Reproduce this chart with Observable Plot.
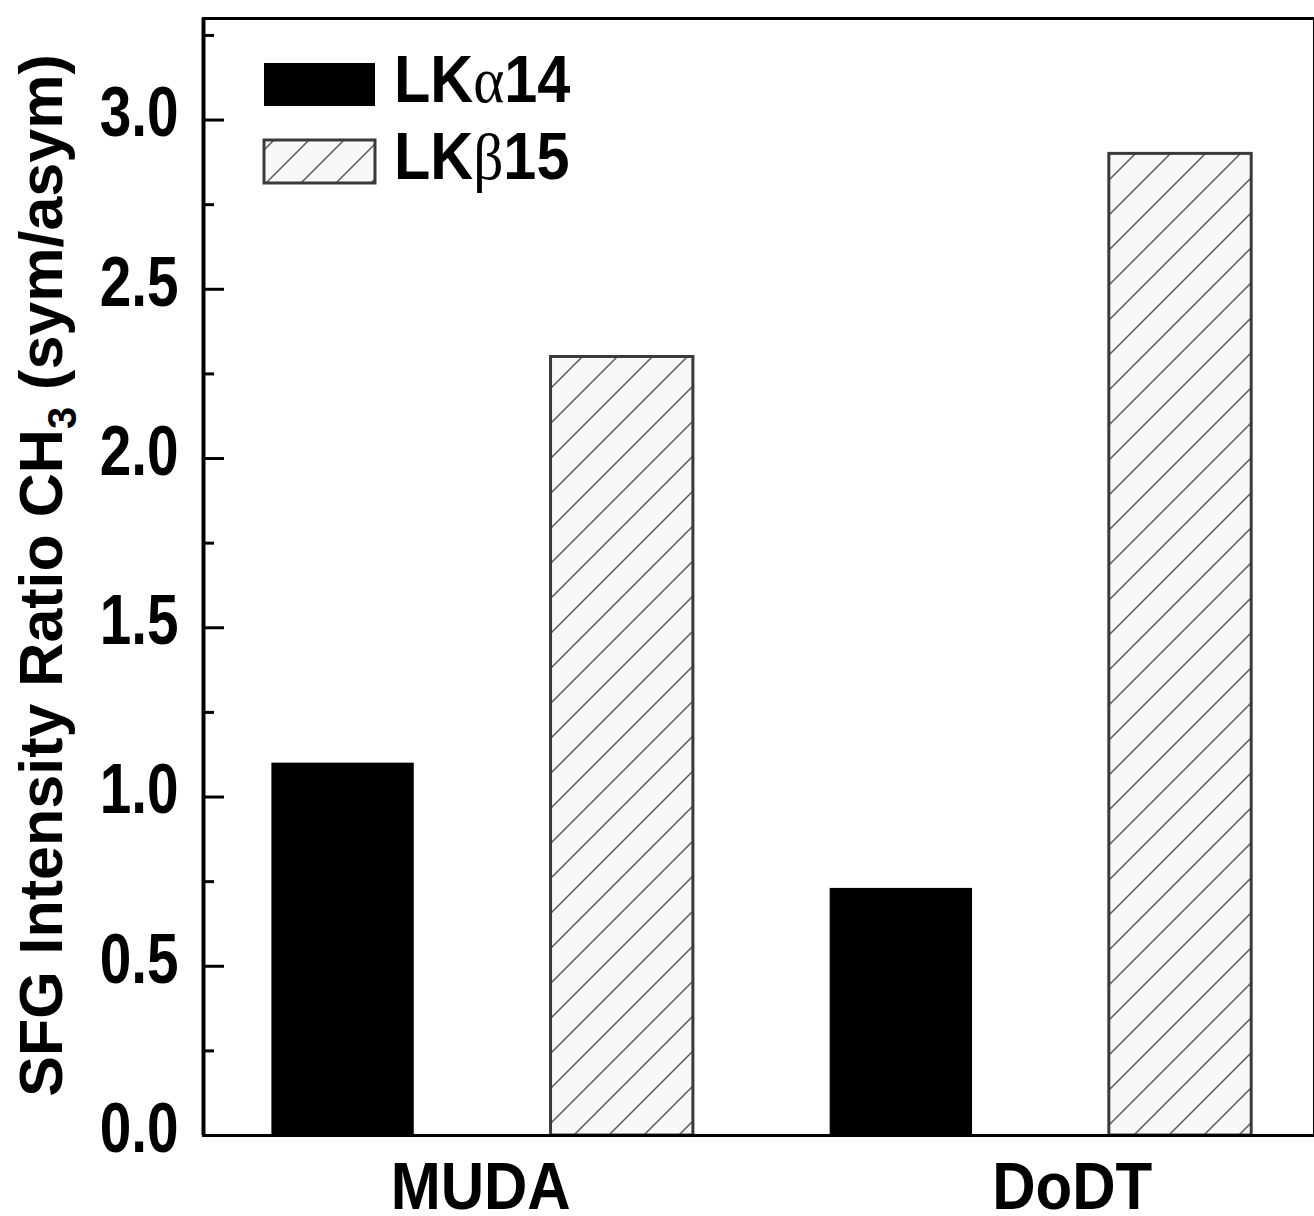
<!DOCTYPE html>
<html>
<head>
<meta charset="utf-8">
<script src="https://cdn.jsdelivr.net/npm/d3@7"></script>
<script src="https://cdn.jsdelivr.net/npm/@observablehq/plot@0.6"></script>
<style>
  html, body { margin: 0; padding: 0; background: #fff; }
  #chart svg { display: block; }
</style>
</head>
<body>
<div id="chart"></div>
<script>
// ---- data ----
const categories = ["MUDA", "DoDT"];
const seriesNames = ["LKα14", "LKβ15"];
const lkAlpha14 = [1.10, 0.73];
const lkBeta15 = [2.30, 2.90];
const yMajorTicks = [0, 0.5, 1.0, 1.5, 2.0, 2.5, 3.0];
const yMinorTicks = [0.25, 0.75, 1.25, 1.75, 2.25, 2.75, 3.25];
const yLabelParts = ["SFG Intensity Ratio CH", "3", " (sym/asym)"];

// ---- layout ----
const W = 1314, H = 1216;
const mL = 203, mR = 0, mT = 18, mB = 81;
const frameW = W - mL - mR;
const sans = "'Liberation Sans', Arial, sans-serif";
const halfBar = 0.255;

const rows = [];
categories.forEach((c, ci) => {
  rows.push({category: c, series: seriesNames[0], value: lkAlpha14[ci], pos: ci * 2 + 1});
  rows.push({category: c, series: seriesNames[1], value: lkBeta15[ci], pos: ci * 2 + 2});
});

const plot = Plot.plot({
  width: W,
  height: H,
  marginLeft: mL,
  marginRight: mR,
  marginTop: mT,
  marginBottom: mB,
  style: {fontFamily: sans, fontWeight: "bold", color: "#000", background: "#fff"},
  x: {domain: [0.5, 4.48], axis: null},
  y: {domain: [0, 3.3], axis: null},
  marks: [
    Plot.rect(rows.filter(d => d.series === seriesNames[1]), {
      x1: d => d.pos - halfBar, x2: d => d.pos + halfBar, y1: 0, y2: "value",
      fill: "url(#hatch)", stroke: "#3a3a3a", strokeWidth: 3
    }),
    Plot.rect(rows.filter(d => d.series === seriesNames[0]), {
      x1: d => d.pos - halfBar, x2: d => d.pos + halfBar, y1: 0, y2: "value",
      fill: "#000"
    }),
    Plot.tickY(yMajorTicks, {y: d => d, stroke: "#000", strokeWidth: 3, insetRight: frameW - 21}),
    Plot.tickY(yMinorTicks, {y: d => d, stroke: "#000", strokeWidth: 3, insetRight: frameW - 11}),
    Plot.axisY({ticks: yMajorTicks, tickSize: 0, tickPadding: 25, tickFormat: d3.format(".1f"),
      fontSize: 70, dy: -6, label: null}),
    Plot.text(categories, {
      x: (d, i) => i * 2 + 1.5 + (i ? 0.112 : -0.007),
      frameAnchor: "bottom", lineAnchor: "top", dy: 27,
      text: d => d, fontSize: 66, fill: "#000"
    }),
    Plot.frame({stroke: "#000", strokeWidth: 3}),
    Plot.ruleX([0.5], {stroke: "#000", strokeWidth: 4})
  ]
});

const svg = d3.select(plot);

// horizontally condense the upright texts (reference is a narrow face)
function squeeze(sel, k) {
  sel.each(function() {
    const t = this.getAttribute("transform") || "";
    this.setAttribute("transform", `${t} scale(${k},1)`);
  });
}
squeeze(svg.selectAll("g[aria-label='y-axis tick label'] text"), 0.81);
squeeze(svg.selectAll("g[aria-label='text'] text"), 0.91);

// hatch pattern
const defs = svg.insert("defs", ":first-child");
const pat = defs.append("pattern")
  .attr("id", "hatch")
  .attr("patternUnits", "userSpaceOnUse")
  .attr("width", 35).attr("height", 35)
  .attr("patternTransform", "translate(29,0)");
pat.append("rect").attr("width", 35).attr("height", 35).attr("fill", "#f8f8f8");
pat.append("path")
  .attr("d", "M0,35L35,0M-5,5L5,-5M30,40L40,30")
  .attr("stroke", "#5a5a5a").attr("stroke-width", 1.5);

// y axis title with subscript
const yt = svg.append("text")
  .attr("transform", `translate(62,${(mT + H - mB) / 2 - 1}) rotate(-90)`)
  .attr("text-anchor", "middle")
  .attr("font-family", sans)
  .attr("font-weight", "bold")
  .attr("font-size", 61)
  .attr("fill", "#000");
yt.append("tspan").text(yLabelParts[0]);
yt.append("tspan").attr("font-size", 40).attr("dy", 14).text(yLabelParts[1]);
yt.append("tspan").attr("dy", -14).text(yLabelParts[2]);

// legend
const legend = svg.append("g");
const legendItems = [
  {fill: "#000", stroke: "none", pre: "LK", greek: "α", post: "14"},
  {fill: "url(#hatch)", stroke: "#3a3a3a", pre: "LK", greek: "β", post: "15"}
];
legendItems.forEach((it, i) => {
  const y0 = 63 + i * 77;
  legend.append("rect")
    .attr("x", 264).attr("y", y0).attr("width", 111).attr("height", 43)
    .attr("fill", it.fill).attr("stroke", it.stroke).attr("stroke-width", it.stroke === "none" ? 0 : 3);
  const t = legend.append("text")
    .attr("transform", `translate(394,${y0 + 39}) scale(0.9,1)`)
    .attr("text-anchor", "start")
    .attr("font-size", 66).attr("font-weight", "bold").attr("font-family", sans).attr("fill", "#000");
  t.append("tspan").text(it.pre);
  t.append("tspan").attr("font-family", "'Liberation Serif', 'DejaVu Serif', serif").attr("font-weight", "normal").text(it.greek);
  t.append("tspan").text(it.post);
});

document.getElementById("chart").appendChild(plot);
</script>
</body>
</html>
